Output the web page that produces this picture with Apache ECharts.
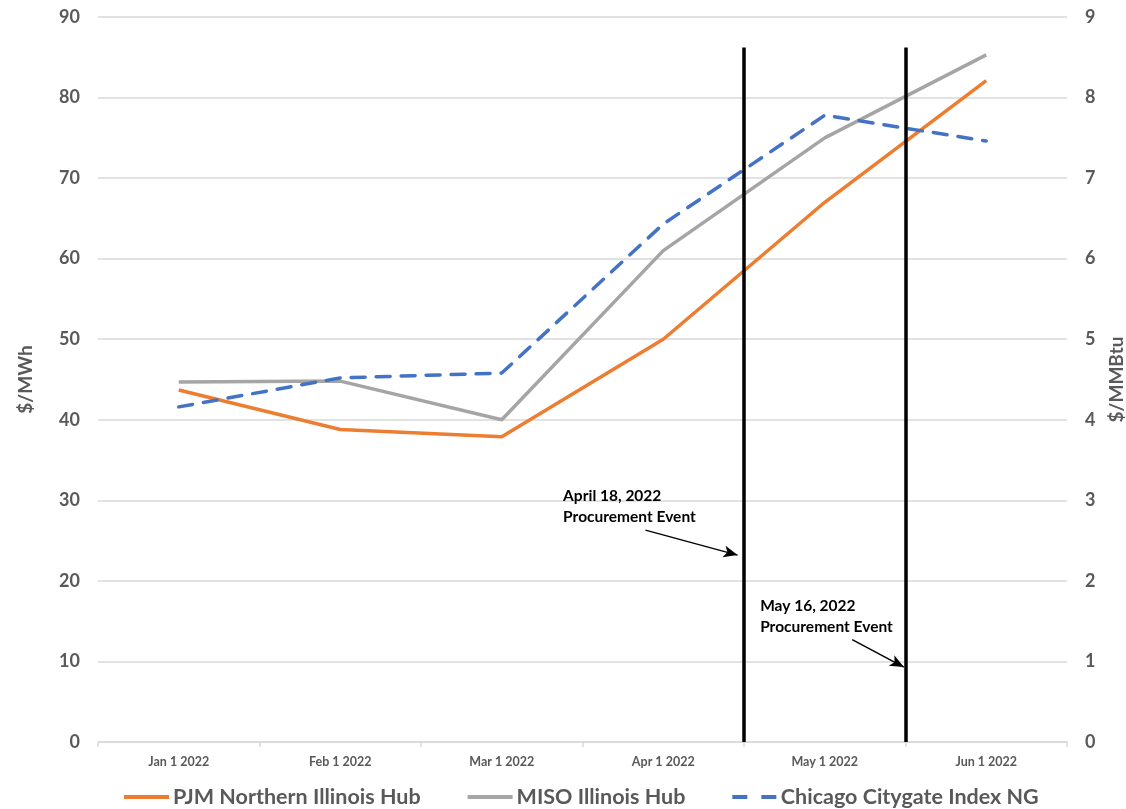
<!DOCTYPE html>
<html>
<head>
<meta charset="utf-8">
<script src="https://cdn.jsdelivr.net/npm/echarts@6/dist/echarts.min.js"></script>
<style>html,body{margin:0;padding:0;background:#fff}#c{width:1126px;height:809px}</style>
</head>
<body>
<div id="c"></div>
<script>
const categories = ['Jan 1 2022','Feb 1 2022','Mar 1 2022','Apr 1 2022','May 1 2022','Jun 1 2022'];
const pjm = [43.7, 38.8, 37.9, 50.0, 67.0, 82.1];
const miso = [44.7, 44.8, 40.0, 61.0, 75.0, 85.3];
const chicago = [4.16, 4.52, 4.58, 6.43, 7.78, 7.46];
const leftTicks = {min: 0, max: 90, interval: 10};
const rightTicks = {min: 0, max: 9, interval: 1};
// event markers (category-boundary positions on a hidden index axis, $/MWh scale)
const events = [
  {x: 3.5, top: 86.2, label: 'April 18, 2022\nProcurement Event', textAt: [2.38, 31.8], arrowFrom: [2.89, 26.3], arrowTo: [3.46, 23.2]},
  {x: 4.5, top: 86.2, label: 'May 16, 2022\nProcurement Event', textAt: [3.6, 18.2], arrowFrom: [4.17, 12.7], arrowTo: [4.49, 9.3]}
];

const FONT = 'Lato';
const GRAY = '#595959';
const chart = echarts.init(document.getElementById('c'));

const eventLines = [];
events.forEach(e => {
  eventLines.push([{coord: [e.x, 0], symbol: 'none', lineStyle: {color: '#000', width: 3.5, type: 'solid'}},
                   {coord: [e.x, e.top], symbol: 'none'}]);
  eventLines.push([{coord: e.arrowFrom, symbol: 'none', lineStyle: {color: '#000', width: 1.5, type: 'solid'}},
                   {coord: e.arrowTo, symbol: 'arrow', symbolSize: [9, 14]}]);
});

chart.setOption({
  animation: false,
  textStyle: {fontFamily: FONT},
  grid: {left: 98, right: 59, top: 17, bottom: 67, containLabel: false, outerBoundsMode: 'none'},
  legend: {
    top: 786, left: 124, padding: 0,
    itemWidth: 45, itemHeight: 4, itemGap: 47,
    textStyle: {fontFamily: FONT, fontSize: 21.5, color: GRAY, fontWeight: 'bold', padding: [0, 0, 0, -1]},
    icon: 'path://M0,0 L45,0 L45,4 L0,4 Z',
    data: [
      {name: 'PJM Northern Illinois Hub'},
      {name: 'MISO Illinois Hub'},
      {name: 'Chicago Citygate Index NG', icon: 'path://M0,0 L15,0 L15,4 L0,4 Z M29,0 L44,0 L44,4 L29,4 Z'}
    ]
  },
  xAxis: [
    {
      type: 'category', data: categories, boundaryGap: true,
      axisLine: {lineStyle: {color: '#d9d9d9', width: 1.5}},
      axisTick: {show: true, length: 5, lineStyle: {color: '#d9d9d9', width: 1.5}},
      axisLabel: {color: GRAY, fontSize: 12.5, fontWeight: 'bold', margin: 13, fontFamily: FONT},
      splitLine: {show: false}
    },
    {type: 'value', min: -0.5, max: 5.5, show: false}
  ],
  yAxis: [
    {
      type: 'value', min: leftTicks.min, max: leftTicks.max, interval: leftTicks.interval,
      name: '$/MWh', nameLocation: 'middle', nameGap: 63, nameRotate: 90,
      nameTextStyle: {color: GRAY, fontSize: 19, fontWeight: 'bold', fontFamily: FONT},
      axisLine: {show: false}, axisTick: {show: false},
      axisLabel: {color: GRAY, fontSize: 18, fontWeight: 'bold', margin: 18, fontFamily: FONT},
      splitLine: {lineStyle: {color: '#d9d9d9', width: 1.5}}
    },
    {
      type: 'value', min: rightTicks.min, max: rightTicks.max, interval: rightTicks.interval,
      name: '$/MMBtu', nameLocation: 'middle', nameGap: 40, nameRotate: 90,
      nameTextStyle: {color: GRAY, fontSize: 19, fontWeight: 'bold', fontFamily: FONT},
      axisLine: {show: false}, axisTick: {show: false},
      axisLabel: {color: GRAY, fontSize: 18, fontWeight: 'bold', margin: 18, fontFamily: FONT},
      splitLine: {show: false}
    }
  ],
  series: [
    {name: 'PJM Northern Illinois Hub', type: 'line', data: pjm, symbol: 'none',
     lineStyle: {color: '#ED7D31', width: 3.5}, itemStyle: {color: '#ED7D31'}},
    {name: 'MISO Illinois Hub', type: 'line', data: miso, symbol: 'none',
     lineStyle: {color: '#A5A5A5', width: 3.5}, itemStyle: {color: '#A5A5A5'}},
    {name: 'Chicago Citygate Index NG', type: 'line', data: chicago, yAxisIndex: 1, symbol: 'none',
     lineStyle: {color: '#4472C4', width: 3.5, type: [14, 11], cap: 'round'}, itemStyle: {color: '#4472C4'}},
    {name: 'events', type: 'line', xAxisIndex: 1, yAxisIndex: 0, data: [], silent: true,
     markLine: {silent: true, symbol: 'none', label: {show: false}, animation: false, data: eventLines}}
  ]
});

const graphics = events.map(e => {
  const p = chart.convertToPixel({xAxisIndex: 1, yAxisIndex: 0}, e.textAt);
  return {type: 'text', left: p[0], top: p[1], z: 100,
    style: {text: e.label, fill: '#000', font: 'bold 15.5px ' + FONT, lineHeight: 21}};
});
chart.setOption({graphic: graphics});
</script>
</body>
</html>
